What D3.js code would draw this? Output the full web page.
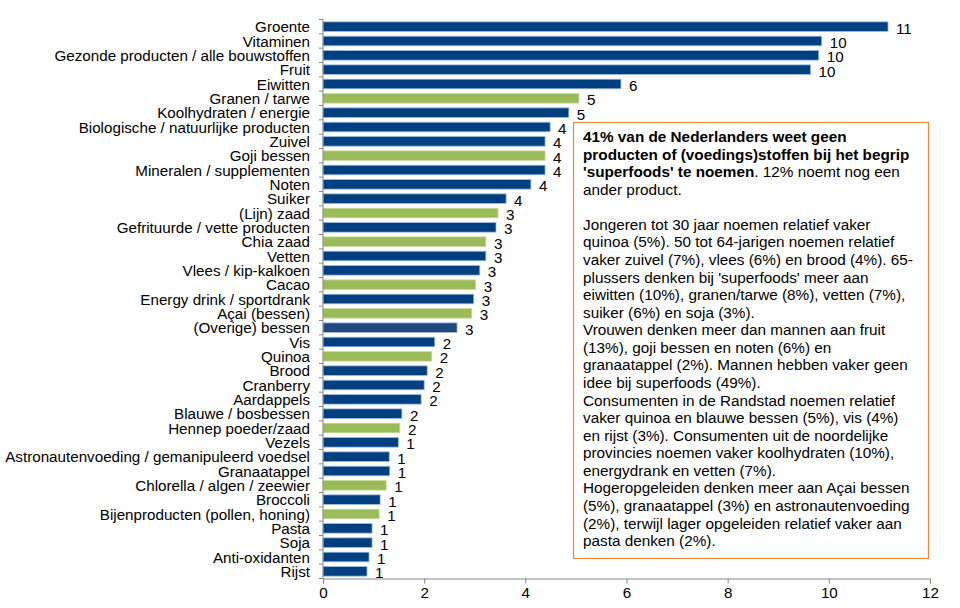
<!DOCTYPE html>
<html><head><meta charset="utf-8">
<script src="https://cdn.jsdelivr.net/npm/d3@7"></script>
<style>body{margin:0;background:#fff}svg{display:block}</style>
</head><body>
<script>
const categories = ["Groente","Vitaminen","Gezonde producten / alle bouwstoffen","Fruit","Eiwitten","Granen / tarwe","Koolhydraten / energie","Biologische / natuurlijke producten","Zuivel","Goji bessen","Mineralen / supplementen","Noten","Suiker","(Lijn) zaad","Gefrituurde / vette producten","Chia zaad","Vetten","Vlees / kip-kalkoen","Cacao","Energy drink / sportdrank","Açai (bessen)","(Overige) bessen","Vis","Quinoa","Brood","Cranberry","Aardappels","Blauwe / bosbessen","Hennep poeder/zaad","Vezels","Astronautenvoeding / gemanipuleerd voedsel","Granaatappel","Chlorella / algen / zeewier","Broccoli","Bijenproducten (pollen, honing)","Pasta","Soja","Anti-oxidanten","Rijst"];
const values = [11.17,9.86,9.80,9.64,5.89,5.06,4.86,4.49,4.39,4.39,4.39,4.11,3.62,3.46,3.42,3.22,3.22,3.10,3.02,2.98,2.94,2.65,2.21,2.15,2.06,2.00,1.94,1.56,1.52,1.49,1.31,1.32,1.25,1.13,1.11,0.97,0.97,0.91,0.87];
const labels = [11,10,10,10,6,5,5,4,4,4,4,4,4,3,3,3,3,3,3,3,3,3,2,2,2,2,2,2,2,1,1,1,1,1,1,1,1,1,1];
const groups = ["b","b","b","b","b","g","b","b","b","g","b","b","b","g","b","g","b","b","g","b","g","o","b","g","b","b","b","b","g","b","b","b","g","b","g","b","b","b","b"];
const xTicks = [0,2,4,6,8,10,12];
const noteLines = [
 [["b","41% van de Nederlanders weet geen"]],
 [["b","producten of (voedings)stoffen bij het begrip"]],
 [["b","'superfoods' te noemen"],["n",". 12% noemt nog een"]],
 [["n","ander product."]],
 [["n",""]],
 [["n","Jongeren tot 30 jaar noemen relatief vaker"]],
 [["n","quinoa (5%). 50 tot 64-jarigen noemen relatief"]],
 [["n","vaker zuivel (7%), vlees (6%) en brood (4%). 65-"]],
 [["n","plussers denken bij 'superfoods' meer aan"]],
 [["n","eiwitten (10%), granen/tarwe (8%), vetten (7%),"]],
 [["n","suiker (6%) en soja (3%)."]],
 [["n","Vrouwen denken meer dan mannen aan fruit"]],
 [["n","(13%), goji bessen en noten (6%) en"]],
 [["n","granaatappel (2%). Mannen hebben vaker geen"]],
 [["n","idee bij superfoods (49%)."]],
 [["n","Consumenten in de Randstad noemen relatief"]],
 [["n","vaker quinoa en blauwe bessen (5%), vis (4%)"]],
 [["n","en rijst (3%). Consumenten uit de noordelijke"]],
 [["n","provincies noemen vaker koolhydraten (10%),"]],
 [["n","energydrank en vetten (7%)."]],
 [["n","Hogeropgeleiden denken meer aan Açai bessen"]],
 [["n","(5%), granaatappel (3%) en astronautenvoeding"]],
 [["n","(2%), terwijl lager opgeleiden relatief vaker aan"]],
 [["n","pasta denken (2%)."]]
];

const W=960,H=608;
const FS=15.2;
const colors = {b:"#003f80", g:"#9bbb59", o:"#23487e"};
const svg = d3.select("body").append("svg").attr("width",W).attr("height",H)
  .style("font-family","'Liberation Sans', Arial, sans-serif");

const x = d3.scaleLinear().domain([0,12]).range([323,930]);
const y = d3.scaleBand().domain(categories).range([19.5,578.5]).paddingInner(0.33).paddingOuter(0.165);
const step = y.step();

svg.selectAll("rect.bar").data(categories).join("rect")
  .attr("x",x(0)).attr("y",d=>y(d))
  .attr("width",(d,i)=>x(values[i])-x(0)).attr("height",y.bandwidth())
  .attr("fill",(d,i)=>colors[groups[i]])
  .attr("stroke",(d,i)=>groups[i]==="g"?"#c8dca8":"#9fbfe0").attr("stroke-width",0.8);

svg.selectAll("text.val").data(categories).join("text")
  .attr("x",(d,i)=>x(values[i])+8).attr("y",d=>y(d)+y.bandwidth()/2+7)
  .attr("font-size",FS).attr("fill","#000").text((d,i)=>labels[i]);

svg.append("line").attr("x1",323).attr("x2",323).attr("y1",19.5).attr("y2",578.5).attr("stroke","#888");
const bounds = d3.range(categories.length+1).map(i=>19.5+i*step);
svg.selectAll("line.yt").data(bounds).join("line")
  .attr("x1",319).attr("x2",323).attr("y1",d=>d).attr("y2",d=>d).attr("stroke","#888");
svg.selectAll("text.cat").data(categories).join("text")
  .attr("x",310).attr("y",d=>y(d)+y.bandwidth()/2+5.5)
  .attr("text-anchor","end").attr("font-size",FS).attr("fill","#000").text(d=>d);

const xa = svg.append("g").attr("transform","translate(0,578.5)")
  .call(d3.axisBottom(x).tickValues(xTicks).tickSize(5).tickPadding(4).tickFormat(d3.format("d")));
xa.select(".domain").attr("stroke","#888");
xa.selectAll(".tick line").attr("stroke","#888");
xa.selectAll("text").attr("font-size",FS).attr("fill","#000").style("font-family","'Liberation Sans', Arial, sans-serif");

svg.append("rect").attr("x",573.5).attr("y",122.5).attr("width",355).attr("height",436)
  .attr("fill","#fff").attr("stroke","#e38a3c").attr("stroke-width",1.2);
const tg = svg.append("g");
noteLines.forEach((segs,i)=>{
  const t = tg.append("text").attr("x",583).attr("y",142+i*17.57).attr("font-size",15.3).attr("fill","#000");
  segs.forEach(s=>t.append("tspan").attr("font-weight",s[0]==="b"?"bold":"normal").text(s[1]));
});
</script>
</body></html>
